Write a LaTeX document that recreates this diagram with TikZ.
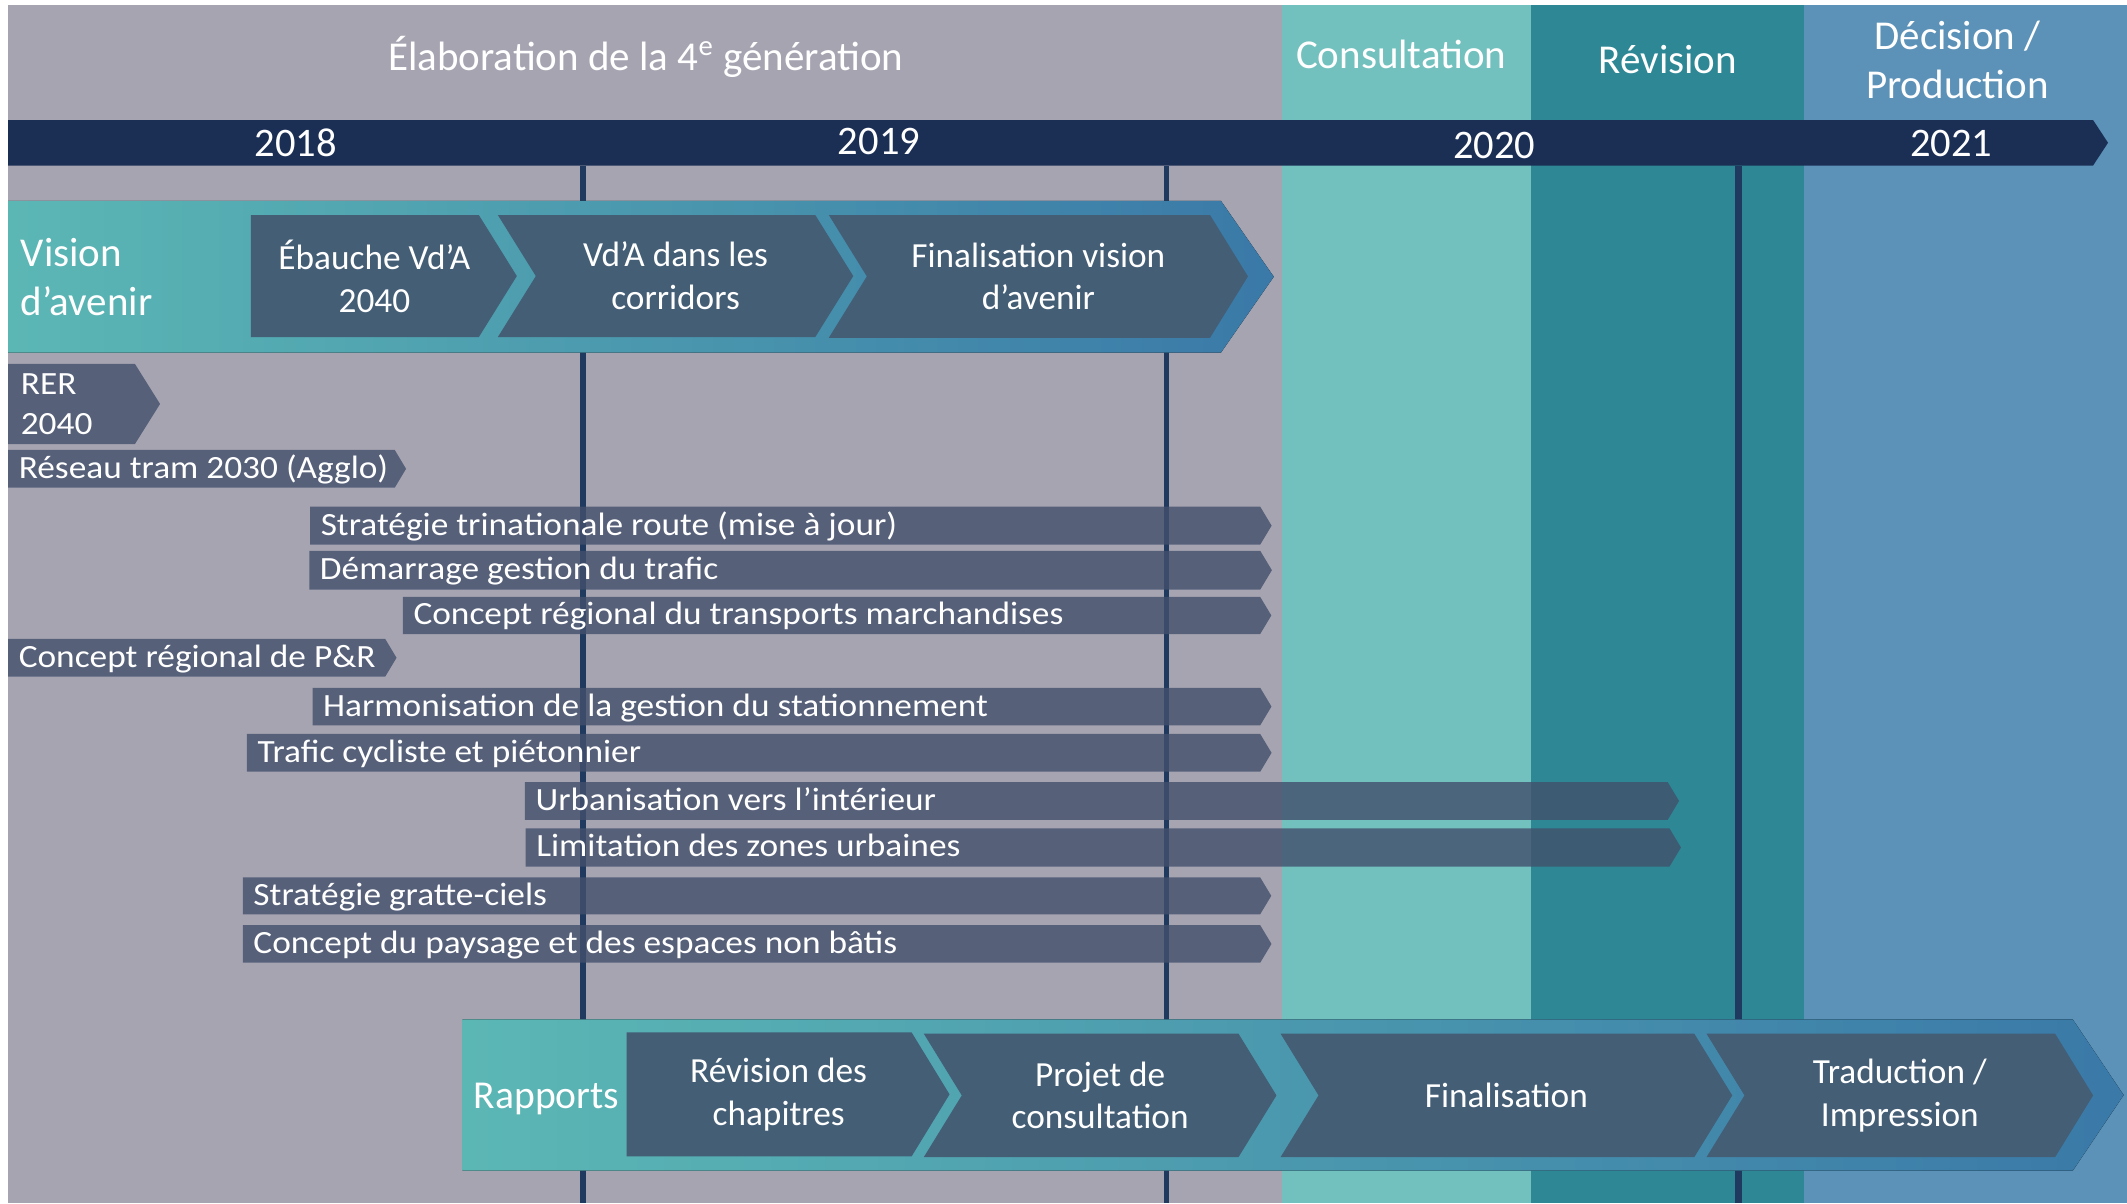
\documentclass[tikz,border=0pt]{standalone}
\usepackage{fontspec}
\setmainfont{Carlito}
\newfontfamily\taskfamily{Carlito}[FakeStretch=1.09]
\usepackage{tikz}

\definecolor{greybg}{RGB}{167,164,177}
\definecolor{consultbg}{RGB}{115,193,190}
\definecolor{revisionbg}{RGB}{46,135,149}
\definecolor{decisionbg}{RGB}{92,146,184}
\definecolor{timebar}{RGB}{27,47,85}
\definecolor{yearline}{RGB}{31,58,94}
\definecolor{bandleft}{RGB}{91,183,180}
\definecolor{bandright}{RGB}{58,121,168}
\definecolor{chevfill}{RGB}{68,94,118}
\definecolor{taskfill}{RGB}{66,80,108}

\newcommand{\headfont}{\fontsize{17.2}{20.4}\selectfont}
\newcommand{\yearfont}{\fontsize{17}{19}\selectfont}
\newcommand{\stepfont}{\fontsize{14.8}{18}\selectfont}
\newcommand{\taskfont}{\taskfamily\fontsize{13.6}{17}\selectfont}

\newcommand{\taskbar}[6]{%
	\fill[task] (#2,#4) -- (#3,#4) -- ({#3+0.3*(#5-#4)},{(#4+#5)/2}) -- (#3,#5) -- (#2,#5) -- cycle;
	\node[tasklabel] (#1) at ({#2+7.5},{(#4+#5)/2+7}) {#6};
}
\newcommand{\stepchev}[7]{%
	\fill[chev] (#2,#4) -- (#3,#4) -- ({#3+28},{(#4+#5)/2}) -- (#3,#5) -- (#2,#5) -- ({#2+#6},{(#4+#5)/2}) -- cycle;
	\node[steplabel] (#1) at ({(#2+#3)/2+7+#6/4},{(#4+#5)/2}) {#7};
}

\begin{document}
\begin{tikzpicture}[x=0.02cm, y=-0.02cm,
		task/.style={fill=taskfill, fill opacity=0.8},
		tasklabel/.style={anchor=base west, inner sep=0pt, text=white, font=\taskfont},
		chev/.style={fill=chevfill},
		steplabel/.style={align=center, inner sep=0pt, text=white, font=\stepfont},
		band/.style={left color=bandleft, right color=bandright},
		phase/.style={text=white, font=\headfont, inner sep=0pt},
		year/.style={text=white, font=\yearfont, inner sep=0pt},
		yearsep/.style={draw=yearline, line width=0.085cm}]

	\useasboundingbox (0,0) rectangle (1568,887);
	\fill[greybg] (6,3.5) rectangle (945,887);
	\fill[consultbg] (945,3.5) rectangle (1128.5,887);
	\fill[revisionbg] (1128.5,3.5) rectangle (1330,887);
	\fill[decisionbg] (1330,3.5) rectangle (1568,887);

	\node[phase, anchor=base] (elab) at (476,52) {Élaboration de la 4\textsuperscript{e} génération};
	\node[phase, anchor=base] (consult) at (1033,50.6) {Consultation};
	\node[phase, anchor=base] (revision) at (1229.5,54.3) {Révision};
	\node[phase, align=center] (decision) at (1443,44) {Décision /\\Production};

	\draw[yearsep] (430,122) -- (430,887);
	\draw[yearsep] (860,122) -- (860,887);
	\draw[yearsep, line width=0.1cm] (1281.5,122) -- (1281.5,887);

	\fill[timebar] (6,88.5) -- (1543,88.5) -- (1554,105.25) -- (1543,122) -- (6,122) -- cycle;
	\node[year] (y2018) at (218,105.5) {2018};
	\node[year] (y2019) at (648,104.5) {2019};
	\node[year] (y2020) at (1101.5,107) {2020};
	\node[year] (y2021) at (1438.5,105.7) {2021};

	\fill[band] (6,148) -- (900,148) -- (939,204) -- (900,260) -- (6,260) -- cycle;
	\node[phase, anchor=west, align=left] (vision) at (15,204) {Vision\\d’avenir};
	\stepchev{ebauche}{185}{353}{158.5}{248.5}{0}{Ébauche Vd’A\\2040}
	\stepchev{corridors}{367}{601}{158.5}{248.5}{28}{Vd’A dans les\\corridors}
	\stepchev{finvision}{611}{892}{158.5}{249}{28}{Finalisation vision\\d’avenir}

	\fill[task] (6,268.3) -- (99.5,268.3) -- (118,297.8) -- (99.5,327.3) -- (6,327.3) -- cycle;
	\node[tasklabel, anchor=west, align=left] (rer) at (15,298) {RER\\2040};
	\taskbar{tram}{6}{291}{331.7}{359.5}{Réseau tram 2030 (Agglo)}
	\taskbar{route}{228.6}{929}{373.5}{401.5}{Stratégie trinationale route (mise à jour)}
	\taskbar{trafic}{228}{929}{406}{434.7}{Démarrage gestion du trafic}
	\taskbar{marchandises}{297}{929}{440}{467.4}{Concept régional du transports marchandises}
	\taskbar{pr}{6}{284}{471}{498.8}{Concept régional de P\&R}
	\taskbar{stationnement}{230.4}{929}{507}{534.7}{Harmonisation de la gestion du stationnement}
	\taskbar{cycliste}{182}{929}{541}{568.9}{Trafic cycliste et piétonnier}
	\taskbar{urbanisation}{387}{1229.4}{576.5}{604.4}{Urbanisation vers l’intérieur}
	\taskbar{limitation}{387.5}{1230.7}{610.6}{638.9}{Limitation des zones urbaines}
	\taskbar{grattociel}{179}{929}{646.8}{674}{Stratégie gratte-ciels}
	\taskbar{paysage}{179}{929}{682}{709.7}{Concept du paysage et des espaces non bâtis}

	\fill[band] (341,751.5) -- (1528,751.5) -- (1565.5,807.25) -- (1528,863) -- (341,863) -- cycle;
	\node[phase, anchor=base, font=\fontsize{16.6}{20}\selectfont] (rapports) at (403,817) {Rapports};
	\stepchev{revchap}{462}{672}{761}{852.5}{0}{Révision des\\chapitres}
	\stepchev{projet}{681}{913}{762}{853}{28}{Projet de\\consultation}
	\stepchev{finalisation}{944}{1249}{762}{853}{28}{Finalisation}
	\stepchev{traduction}{1258}{1515}{762}{853}{28}{Traduction /\\Impression}

\end{tikzpicture}
\end{document}
